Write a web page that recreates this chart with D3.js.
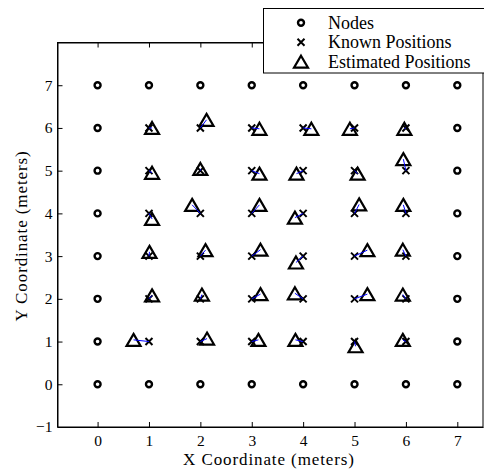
<!DOCTYPE html>
<html><head><meta charset="utf-8">
<script src="https://cdn.jsdelivr.net/npm/d3@7"></script>
<style>
body{margin:0;background:#fff;}
svg text{font-family:"Liberation Serif","Times New Roman",serif;fill:#000;}
</style></head>
<body><svg id="c" width="484" height="470"></svg>
<script>
// Data
const gridVals = [0,1,2,3,4,5,6,7];
const xTicks = [0,1,2,3,4,5,6,7];
const yTicks = [-1,0,1,2,3,4,5,6,7];
// Known (interior) positions: rows y=6..1, columns x=1..6
const knownRows = [6,5,4,3,2,1];
const knownCols = [1,2,3,4,5,6];
// Estimated positions, rows correspond to knownRows, columns to knownCols
const estX = [
  [1.06, 2.12, 3.15, 4.16, 4.91, 5.97],
  [1.06, 2.00, 3.15, 3.87, 5.06, 5.95],
  [1.06, 1.84, 3.15, 3.84, 5.09, 5.95],
  [1.01, 2.10, 3.17, 3.86, 5.25, 5.94],
  [1.06, 2.03, 3.17, 3.84, 5.25, 5.94],
  [0.70, 2.13, 3.13, 3.85, 5.02, 5.94]
];
const estY = [
  [6.00, 6.19, 5.98, 5.98, 5.98, 5.98],
  [4.95, 5.04, 4.93, 4.93, 4.93, 5.27],
  [3.87, 4.20, 4.20, 3.90, 4.21, 4.20],
  [3.10, 3.14, 3.15, 2.85, 3.14, 3.15],
  [2.08, 2.10, 2.11, 2.13, 2.11, 2.10],
  [1.04, 1.07, 1.04, 1.04, 0.89, 1.04]
];
const legendLabels = ["Nodes","Known Positions","Estimated Positions"];

const svg = d3.select("#c");
const L=57.5, R=483, T=42.5, B=427;
const x = d3.scaleLinear().domain([-0.78,7.5]).range([L,R]);
const y = d3.scaleLinear().domain([-1,8]).range([B,T]);

// Build point lists
const nodes = [];
gridVals.forEach(gx=>gridVals.forEach(gy=>{
  if(gx===0||gx===7||gy===0||gy===7) nodes.push({x:gx,y:gy});
}));
const pairs = [];
knownRows.forEach((ry,i)=>knownCols.forEach((cx,j)=>{
  pairs.push({kx:cx,ky:ry,ex:estX[i][j],ey:estY[i][j]});
}));

// frame
svg.append("rect").attr("x",L).attr("y",T).attr("width",R-L).attr("height",B-T)
  .attr("fill","none").attr("stroke","#000").attr("stroke-width",1);

// axes with inward ticks
const tl = 5;
const gB = svg.append("g").attr("transform",`translate(0,${B})`)
  .call(d3.axisBottom(x).tickValues(xTicks).tickSizeInner(-tl).tickSizeOuter(0).tickPadding(8));
const gT = svg.append("g").attr("transform",`translate(0,${T})`)
  .call(d3.axisTop(x).tickValues(xTicks).tickSizeInner(-tl).tickSizeOuter(0).tickFormat(""));
const gL = svg.append("g").attr("transform",`translate(${L},0)`)
  .call(d3.axisLeft(y).tickValues(yTicks).tickSizeInner(-tl).tickSizeOuter(0).tickPadding(5)
    .tickFormat(d=>d<0?"\u2212"+(-d):d));
[gB,gT,gL].forEach(g=>{
  g.select(".domain").attr("stroke","#000");
  g.selectAll(".tick line").attr("stroke","#000");
  g.selectAll("text").style("font-size","15.5px").style("font-family","Liberation Serif");
});

// axis titles
svg.append("text").attr("x",269).attr("y",465).attr("text-anchor","middle")
  .style("font-size","17px").style("letter-spacing","0.9px").text("X Coordinate (meters)");
svg.append("text").attr("transform",`translate(27,236) rotate(-90)`)
  .attr("text-anchor","middle").style("font-size","17px").style("letter-spacing","0.9px").text("Y Coordinate (meters)");

// markers
const tri = (cx,cy)=>{const w=7,h=6;return `M${cx},${cy-h}L${cx+w},${cy+h}L${cx-w},${cy+h}Z`;};
const cross = (cx,cy)=>{const s=3.5;return `M${cx-s},${cy-s}L${cx+s},${cy+s}M${cx-s},${cy+s}L${cx+s},${cy-s}`;};

svg.append("g").selectAll("circle").data(nodes).join("circle")
  .attr("cx",d=>x(d.x)).attr("cy",d=>y(d.y)).attr("r",3)
  .attr("fill","#fff").attr("stroke","#000").attr("stroke-width",2.4);
svg.append("g").selectAll("path").data(pairs).join("path")
  .attr("d",d=>cross(x(d.kx),y(d.ky))).attr("stroke","#000").attr("stroke-width",2).attr("fill","none");
svg.append("g").selectAll("path").data(pairs).join("path")
  .attr("d",d=>tri(x(d.ex),y(d.ey))).attr("stroke","#000").attr("stroke-width",2.2)
  .attr("fill","none").attr("stroke-linejoin","miter");
svg.append("g").selectAll("line").data(pairs).join("line")
  .attr("x1",d=>x(d.kx)).attr("y1",d=>y(d.ky)).attr("x2",d=>x(d.ex)).attr("y2",d=>y(d.ey))
  .attr("stroke","#0000ff").attr("stroke-width",1);

// legend
const lg = svg.append("g");
lg.append("rect").attr("x",263.5).attr("y",8.5).attr("width",230).attr("height",64.5)
  .attr("fill","#fff").attr("stroke","#000").attr("stroke-width",1);
const rowsY=[22.7,42.2,61.7], mx=301;
lg.append("circle").attr("cx",mx).attr("cy",rowsY[0]).attr("r",3).attr("fill","#fff").attr("stroke","#000").attr("stroke-width",2.4);
lg.append("path").attr("d",cross(mx,rowsY[1])).attr("stroke","#000").attr("stroke-width",2);
lg.append("path").attr("d",tri(mx,rowsY[2])).attr("stroke","#000").attr("stroke-width",2.2).attr("fill","none");
legendLabels.forEach((t,i)=>{
  lg.append("text").attr("x",328).attr("y",rowsY[i]+6).style("font-size","18px").text(t);
});
</script></body></html>
